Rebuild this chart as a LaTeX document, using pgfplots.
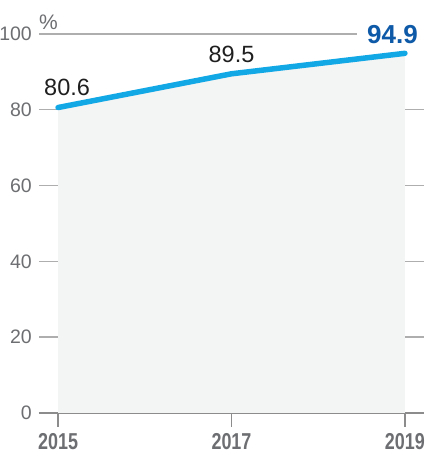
\documentclass[border=0pt]{standalone}
\usepackage{pgfplots}
\pgfplotsset{compat=1.18}
\usepackage{fontspec}
\setmainfont{Liberation Sans}
\definecolor{linecyan}{HTML}{12A8E6}
\definecolor{labelblue}{HTML}{0F5AA8}
\definecolor{tickgray}{HTML}{6D6E71}
\definecolor{gridgray}{HTML}{AEAEAE}
\definecolor{basegray}{HTML}{8C8C8C}
\definecolor{areagray}{HTML}{F3F4F4}
\newcommand{\yr}[1]{\scalebox{0.78}[1]{\bfseries #1}}
\begin{document}
\begin{tikzpicture}
% picture frame: 424 x 453, axis box at (0,0)-(385,379)
\useasboundingbox (-39pt,-40pt) rectangle (385pt,413pt);
\begin{axis}[
    scale only axis,
    width=385pt, height=379pt,
    xmin=2014.78, xmax=2019.22,
    ymin=0, ymax=100,
    axis x line=bottom, axis y line=left,
    x axis line style={draw=basegray, line width=2.6pt, -},
    y axis line style={draw=none},
    xtick={2015,2017,2019},
    xticklabels={{\yr{2015}},{\yr{2017}},{\yr{2019}\hspace{6pt}}},
    ytick={0,20,40,60,80,100},
    x tick style={draw=basegray, line width=1.3pt},
    xtick align=outside,
    major tick length=14pt,
    y tick style={draw=none},
    ymajorgrids=true,
    grid style={draw=gridgray, line width=1.4pt},
    tick label style={text=tickgray},
    y tick label style={font=\fontsize{19.5}{23}\selectfont, inner sep=0pt, xshift=0pt},
    x tick label style={font=\fontsize{23}{27}\selectfont, inner sep=0pt, anchor=north, yshift=-6pt},
    /pgf/number format/assume math mode=true,
    clip=false,
]
\addplot[fill=areagray, draw=none] coordinates {(2015,80.6) (2017,89.5) (2019,94.9)} \closedcycle;
\addplot[linecyan, line width=5.5pt, line cap=round, line join=round] coordinates {(2015,80.6) (2017,89.5) (2019,94.9)};
\node[anchor=base, font=\fontsize{23.5}{28}\selectfont, text=black!88, inner sep=0pt, xshift=9pt, yshift=12.5pt] at (axis cs:2015,80.6) {80.6};
\node[anchor=base, font=\fontsize{23.5}{28}\selectfont, text=black!88, inner sep=0pt, yshift=11pt] at (axis cs:2017,89.5) {89.5};
\node[overlay, anchor=base east, font=\fontsize{26}{30}\selectfont\bfseries, fill=white, inner xsep=10pt, inner ysep=3pt, xshift=23pt, yshift=10pt] at (axis cs:2019,94.9) {\phantom{94.9}};
\node[anchor=base east, font=\fontsize{26}{30}\selectfont\bfseries, text=labelblue, inner sep=0pt, xshift=13pt, yshift=10pt] at (axis cs:2019,94.9) {94.9};
\node[anchor=base west, font=\fontsize{21}{25}\selectfont, text=tickgray, inner sep=0pt, yshift=4pt] at (axis cs:2014.78,100) {\%};
\end{axis}
\end{tikzpicture}
\end{document}
